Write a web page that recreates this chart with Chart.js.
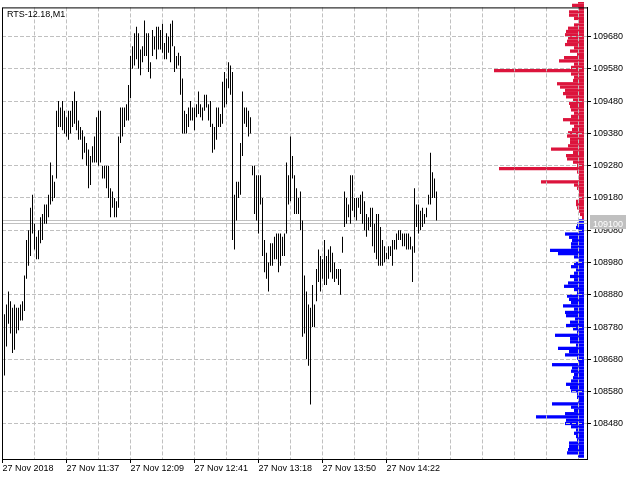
<!DOCTYPE html>
<html lang="en">
<head>
<meta charset="UTF-8">
<title>RTS-12.18,M1</title>
<script src="https://cdn.jsdelivr.net/npm/chart.js"></script>
<style>
  body { margin: 0; background: #fff; }
  .wrap { position: relative; width: 640px; height: 480px; }
  .wrap canvas { position: absolute; left: 0; top: 0; }
</style>
</head>
<body>
<div class="wrap">
  <canvas id="domChart" width="640" height="480"></canvas>
  <canvas id="priceChart" width="640" height="480"></canvas>
</div>
<script>
// chart title (symbol, timeframe)
const symbolTitle = "RTS-12.18,M1";

// M1 bars: high / low for every minute, left to right
const barHigh = [
  108820,108850,108890,108860,108840,108850,108840,108840,108850,108860,
  108940,109050,109080,109150,109190,109100,109060,109080,109120,109130,
  109160,109160,109190,109290,109250,109230,109450,109480,109460,109480,
  109450,109430,109450,109450,109480,109510,109480,109420,109400,109390,
  109370,109350,109330,109310,109340,109370,109430,109450,109450,109280,
  109280,109280,109280,109210,109200,109180,109170,109370,109460,109460,
  109460,109470,109530,109620,109650,109690,109710,109690,109640,109650,
  109730,109690,109690,109600,109700,109680,109710,109710,109700,109720,
  109660,109690,109680,109720,109730,109650,109620,109630,109620,109550,
  109450,109440,109460,109480,109460,109460,109470,109510,109470,109460,
  109500,109500,109470,109480,109410,109400,109460,109460,109440,109540,
  109570,109550,109600,109590,109570,109190,109230,109230,109350,109510,
  109460,109460,109450,109430,109280,109280,109250,109250,109250,109180,
  109050,109010,108980,109040,109040,109060,109070,109070,109070,109060,
  109070,109290,109250,109370,109310,109250,109210,109180,109200,109110,
  108940,108890,108850,108840,108910,108850,108960,109020,109000,108990,
  109050,109000,109020,109030,109010,108980,108960,108960,108960,109060,
  109200,109180,109160,109250,109250,109180,109180,109180,109190,109200,
  109170,109130,109120,109150,109150,109100,109130,109130,109090,109050,
  109030,109010,109030,109030,109050,109050,109070,109080,109080,109070,
  109070,109070,109070,109060,109030,109210,109160,109160,109140,109150,
  109130,109150,109190,109320,109260,109240,109200
];
const barLow = [
  108630,108720,108790,108760,108700,108710,108760,108770,108800,108800,
  108830,108930,108970,109000,109070,109020,108990,108990,109040,109050,
  109100,109100,109120,109160,109170,109180,109240,109400,109400,109390,
  109380,109370,109360,109380,109400,109410,109390,109360,109360,109300,
  109320,109280,109210,109220,109290,109290,109290,109280,109290,109240,
  109240,109210,109180,109120,109150,109120,109120,109150,109350,109370,
  109400,109420,109420,109490,109580,109590,109610,109580,109560,109600,
  109620,109620,109570,109550,109620,109640,109610,109640,109640,109630,
  109610,109610,109630,109600,109650,109570,109580,109590,109500,109380,
  109380,109380,109400,109420,109420,109390,109430,109440,109430,109420,
  109450,109460,109420,109400,109320,109330,109360,109400,109400,109410,
  109460,109470,109520,109500,109050,109020,109110,109180,109190,109310,
  109410,109400,109370,109380,109250,109130,109110,109070,109160,109000,
  108950,108930,108890,108970,108970,108990,108990,108950,108970,109000,
  109000,109070,109160,109170,109240,109130,109130,109130,109080,108750,
  108760,108680,108660,108540,108780,108780,108860,108920,108890,108930,
  108910,108910,108930,108950,108930,108920,108930,108910,108880,109010,
  109090,109100,109120,109100,109140,109120,109110,109150,109130,109100,
  109080,109060,109080,109090,109030,109010,108990,108970,108970,108970,
  108980,108990,108990,109000,108970,109020,109020,109050,109050,109030,
  109030,109020,109020,109020,108920,109010,109090,109070,109080,109090,
  109100,109120,109160,109160,109180,109180,109110
];

// time axis labels and the bar index each one sits on
const timeLabels = ["27 Nov 2018", "27 Nov 11:37", "27 Nov 12:09", "27 Nov 12:41",
                    "27 Nov 13:18", "27 Nov 13:50", "27 Nov 14:22"];
const timeLabelBars = [-1, 31, 63, 95, 127, 159, 191];

// price scale
const priceTicks = [109680, 109580, 109480, 109380, 109280, 109180, 109080,
                    108980, 108880, 108780, 108680, 108580, 108480];
const priceMin = 108371.3;
const priceMax = 109770.3;

// bid / ask lines
const quoteLines = [109110, 109100];

// depth of market: volume per price level, from the top level downwards
const priceStep = 10;
const askTopPrice = 109770;
const askVolumes = [
  6,12,6,15,15,10,6,10,16,18,19,16,17,19,10,14,7,20,25,10,
  13,90,13,10,11,27,24,19,21,18,11,15,14,13,10,13,21,14,10,12,
  16,17,14,14,16,33,11,18,17,11,7,85,7,5,5,43,10,7,5,5,
  5,8,8,7,5,4,2
];
const bidTopPrice = 109100;
const bidVolumes = [
  5,7,8,6,19,15,12,13,13,34,26,10,5,10,13,8,10,14,10,16,
  20,10,7,17,15,13,21,10,19,18,9,14,18,11,7,29,14,14,8,26,
  15,19,7,6,32,12,13,10,11,13,18,14,13,7,7,6,32,13,10,19,
  48,18,19,13,8,10,8,7,15,15,16,17,6
];
const domScaleMax = 584;

Chart.defaults.font.family = "'Liberation Sans', Arial, sans-serif";
Chart.defaults.font.size = 9;
Chart.defaults.color = "#000";

// grid every 16 bars, first one on the left edge
const gridBars = [];
for (let v = timeLabelBars[0]; v <= 291; v += 16) gridBars.push(v);

// --- depth of market (drawn under the price chart) ---
new Chart(document.getElementById("domChart"), {
    type: "bar",
    data: {
        datasets: [
            { data: askVolumes.map((v, k) => ({ y: askTopPrice - k * priceStep, x: v })), backgroundColor: "#dc143c" },
            { data: bidVolumes.map((v, k) => ({ y: bidTopPrice - k * priceStep, x: v })), backgroundColor: "#0000ff" }
        ]
    },
    options: {
        indexAxis: "y",
        responsive: false,
        animation: false,
        layout: { padding: { left: 0, top: 2, right: 56, bottom: 21 } },
        datasets: { bar: { grouped: false, categoryPercentage: 1, barPercentage: 1, inflateAmount: 0 } },
        plugins: { legend: { display: false }, tooltip: { enabled: false } },
        scales: {
            x: { type: "linear", display: false, reverse: true, min: 0, max: domScaleMax },
            y: { type: "linear", display: false, min: priceMin, max: priceMax, offset: false, grid: { offset: false } }
        }
    }
});

// --- bid/ask lines, frame, title ---
const chartDecor = {
    id: "chartDecor",
    beforeDatasetsDraw(chart) {
        const { ctx, chartArea: a, scales: { y } } = chart;
        ctx.save();
        ctx.strokeStyle = "#c0c0c0";
        ctx.lineWidth = 1;
        quoteLines.forEach(p => {
            const py = Math.round(y.getPixelForValue(p) - 0.5) + 0.5;
            ctx.beginPath();
            ctx.moveTo(a.left, py);
            ctx.lineTo(a.right, py);
            ctx.stroke();
        });
        ctx.restore();
    },
    afterDraw(chart) {
        const { ctx, chartArea: a, scales: { y } } = chart;
        ctx.save();
        ctx.strokeStyle = "#000";
        ctx.lineWidth = 1;
        ctx.strokeRect(a.left + 0.5, a.top + 0.5, a.right - a.left, a.bottom - a.top);

        ctx.font = "9px 'Liberation Sans', Arial, sans-serif";
        ctx.textBaseline = "middle";
        quoteLines.forEach(p => {
            const py = y.getPixelForValue(p);
            ctx.fillStyle = "#c0c0c0";
            ctx.fillRect(a.right + 3, Math.round(py - 5.5), 36, 11);
            ctx.fillStyle = "#fff";
            ctx.fillText(String(p), a.right + 6, py + 0.5);
        });

        ctx.fillStyle = "#000";
        ctx.textBaseline = "alphabetic";
        ctx.fillText(symbolTitle, a.left + 5, a.top + 10);
        ctx.restore();
    }
};

// --- price bars ---
new Chart(document.getElementById("priceChart"), {
    type: "bar",
    data: {
        datasets: [{
            data: barHigh.map((h, i) => ({ x: i, y: [barLow[i], h] })),
            backgroundColor: "#000",
            barThickness: 1,
            inflateAmount: 0
        }]
    },
    options: {
        responsive: false,
        animation: false,
        layout: { padding: { left: 2, top: 2, right: 0, bottom: 0 } },
        plugins: { legend: { display: false }, tooltip: { enabled: false } },
        scales: {
            x: {
                type: "linear",
                min: -1.25,
                max: 291.25,
                offset: false,
                afterBuildTicks: s => { s.ticks = gridBars.map(v => ({ value: v })); },
                afterFit: s => { s.height = 21; },
                grid: {
                    offset: false,
                    color: "#c0c0c0",
                    tickLength: 4,
                    tickColor: c => (c.tick && c.tick.label ? "#000" : "rgba(0,0,0,0)")
                },
                border: { color: "#000", dash: [4, 2] },
                ticks: {
                    autoSkip: false,
                    maxRotation: 0,
                    align: "start",
                    padding: 0,
                    callback: v => {
                        const k = timeLabelBars.indexOf(v);
                        return k >= 0 ? timeLabels[k] : "";
                    }
                }
            },
            y: {
                position: "right",
                min: priceMin,
                max: priceMax,
                afterBuildTicks: s => { s.ticks = priceTicks.map(v => ({ value: v })); },
                afterFit: s => { s.width = 53; },
                grid: { color: "#c0c0c0", tickLength: 4, tickColor: "#000" },
                border: { color: "#000", dash: [4, 2] },
                ticks: { padding: 2, callback: v => String(v) }
            }
        }
    },
    plugins: [chartDecor]
});
</script>
</body>
</html>
